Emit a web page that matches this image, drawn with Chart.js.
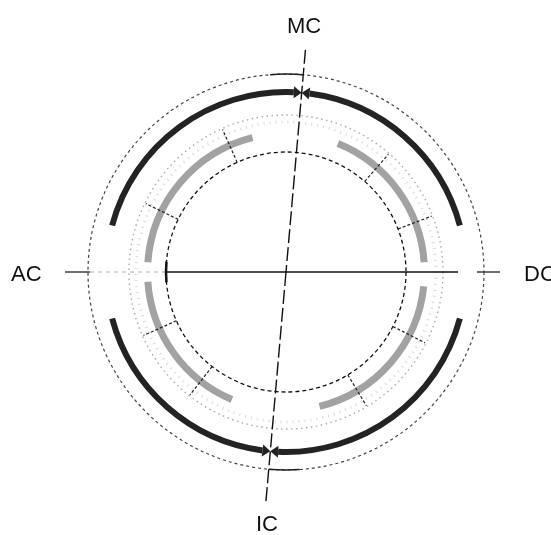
<!DOCTYPE html>
<html>
<head>
<meta charset="utf-8">
<script src="https://cdn.jsdelivr.net/npm/chart.js@4"></script>
<style>
  html, body { margin: 0; padding: 0; background: #fff; overflow: hidden; }
  #wrap { position: relative; width: 551px; height: 535px; overflow: hidden; }
  #c { display: block; }
  .lbl { position: absolute; font: 22px "Liberation Sans", Arial, sans-serif; color: #111; line-height: 1; white-space: nowrap; }
</style>
</head>
<body>
<div id="wrap">
  <canvas id="c" width="551" height="535"></canvas>
  <div class="lbl" style="left:287px;top:15px">MC</div>
  <div class="lbl" style="left:256px;top:513px">IC</div>
  <div class="lbl" style="left:11px;top:263px">AC</div>
  <div class="lbl" style="left:524px;top:263px">DC</div>
</div>
<script>
// ── Data (degrees, clockwise from the top) ──
const mcAngle = 5;
const outerParts = ['tip', 'MC-DC', 'gap', 'DC-IC', 'tip', 'tip', 'IC-AC', 'gap', 'AC-MC', 'tip'];
const outerSpans = [2.5, 67.5, 30, 77.5, 2.5, 2.5, 67.5, 30, 77.5, 2.5];
const innerParts = ['gap', 'arc', 'gap', 'arc', 'gap', 'arc', 'gap', 'arc', 'gap'];
const innerSpans = [22, 64, 10, 70, 37, 63, 8, 72, 14];
const tickAngles = [41, 69, 117, 149, 218, 246, 296, 336];

// ── Styles ──
const rings = [
  {r: 198, color: '#444', width: 1.2, dash: [3, 3]},
  {r: 157, color: '#aaa', width: 1.4, dash: [1.5, 3.5]},
  {r: 150, color: '#dadada', width: 3, dash: [1, 5]},
  {r: 120, color: '#111', width: 1.3, dash: [4, 3]},
];
const rad = d => (d - 90) * Math.PI / 180;

const decor = {
  id: 'decor',
  beforeDatasetsDraw(chart) {
    const {ctx} = chart;
    const el = chart.getDatasetMeta(0).data[0];
    const cx = el.x, cy = el.y;
    ctx.save();
    rings.forEach(g => {
      ctx.beginPath();
      ctx.setLineDash(g.dash);
      ctx.strokeStyle = g.color; ctx.lineWidth = g.width;
      ctx.arc(cx, cy, g.r, 0, Math.PI * 2);
      ctx.stroke();
    });
    ctx.restore();
  },
  afterDatasetsDraw(chart) {
    const {ctx} = chart;
    const meta = chart.getDatasetMeta(0);
    const cx = meta.data[0].x, cy = meta.data[0].y;
    const pt = (d, r) => [cx + r * Math.cos(rad(d)), cy + r * Math.sin(rad(d))];
    const seg = (d, r0, r1, color, w, dash) => {
      const a = pt(d, r0), b = pt(d, r1);
      ctx.beginPath(); ctx.setLineDash(dash || []);
      ctx.strokeStyle = color; ctx.lineWidth = w;
      ctx.moveTo(a[0], a[1]); ctx.lineTo(b[0], b[1]); ctx.stroke();
    };
    const arcLine = (d0, d1, r, color, w) => {
      ctx.beginPath(); ctx.setLineDash([]);
      ctx.strokeStyle = color; ctx.lineWidth = w;
      ctx.arc(cx, cy, r, rad(d0), rad(d1)); ctx.stroke();
    };
    ctx.save();
    // radial ticks
    tickAngles.forEach(d => seg(d, 120, 156, '#222', 1.2, [3, 2]));
    // horizon
    seg(270, 221, 196, '#222', 1.3);
    seg(270, 196, 121, '#bbb', 1.2, [4, 4]);
    seg(270, 121, 0, '#111', 1.3);
    seg(90, 0, 172, '#111', 1.3);
    seg(90, 191, 214, '#222', 1.3);
    arcLine(265, 275, 120, '#111', 2.5);
    // MC / IC bars on outer circle
    arcLine(355.4, 365, 198, '#222', 1.5);
    arcLine(176, 185, 198, '#222', 1.5);
    // meridian
    seg(mcAngle, 223, 0, '#111', 1.4, [14, 4]);
    seg(mcAngle + 180, 0, 231, '#111', 1.4, [14, 4]);
    // arrowheads
    ctx.setLineDash([]);
    ctx.fillStyle = '#222';
    meta.data.forEach((a, i) => {
      if (outerParts[i] !== 'tip') return;
      const p = a.getProps(['startAngle', 'endAngle', 'innerRadius', 'outerRadius']);
      const toEnd = i === outerParts.length - 1 || outerParts[i + 1] === 'tip';
      const tipA = toEnd ? p.endAngle : p.startAngle;
      const baseA = toEnd ? p.startAngle : p.endAngle;
      const rm = (p.innerRadius + p.outerRadius) / 2;
      ctx.beginPath();
      ctx.moveTo(cx + rm * Math.cos(tipA), cy + rm * Math.sin(tipA));
      ctx.lineTo(cx + (rm + 6) * Math.cos(baseA), cy + (rm + 6) * Math.sin(baseA));
      ctx.lineTo(cx + (rm - 6) * Math.cos(baseA), cy + (rm - 6) * Math.sin(baseA));
      ctx.closePath(); ctx.fill();
    });
    ctx.restore();
  }
};

new Chart(document.getElementById('c'), {
  type: 'doughnut',
  data: {
    labels: outerParts,
    datasets: [
      {data: outerSpans, rotation: mcAngle, weight: 6,
       backgroundColor: ctx => (outerParts[ctx.dataIndex] === 'tip' || outerParts[ctx.dataIndex] === 'gap') ? 'rgba(0,0,0,0)' : '#232323'},
      {data: [360], weight: 35, backgroundColor: 'rgba(0,0,0,0)'},
      {data: innerSpans, rotation: 0, weight: 7,
       backgroundColor: ctx => innerParts[ctx.dataIndex] === 'gap' ? 'rgba(0,0,0,0)' : '#a2a2a2'},
    ]
  },
  options: {
    responsive: false, animation: false, events: [],
    cutout: 135, spacing: 0,
    borderWidth: 0, hoverBorderWidth: 0, offset: 0, hoverOffset: 0,
    layout: {padding: {left: 103, top: 89, right: 82, bottom: 80}},
    plugins: {legend: {display: false}, tooltip: {enabled: false}}
  },
  plugins: [decor]
});
</script>
</body>
</html>
